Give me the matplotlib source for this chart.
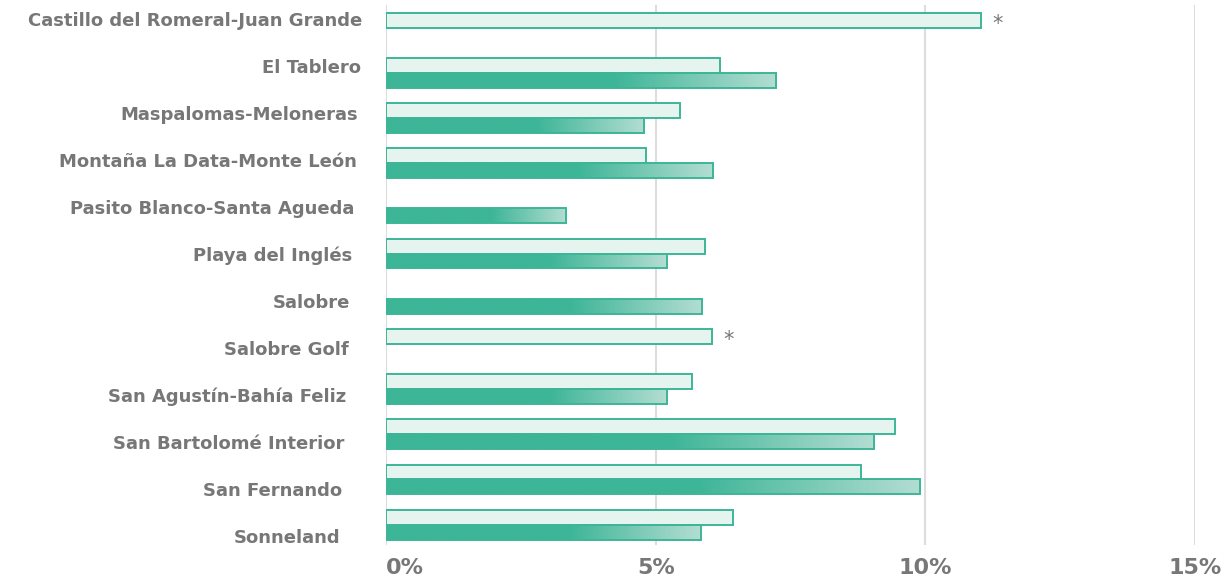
import numpy as np
import matplotlib
matplotlib.use("Agg")
from matplotlib import pyplot as plt
from matplotlib.colors import LinearSegmentedColormap
from matplotlib.patches import Rectangle
from matplotlib.transforms import ScaledTranslation

zones = ["Castillo del Romeral-Juan Grande", "El Tablero", "Maspalomas-Meloneras",
         "Montaña La Data-Monte León", "Pasito Blanco-Santa Agueda", "Playa del Inglés",
         "Salobre", "Salobre Golf", "San Agustín-Bahía Feliz", "San Bartolomé Interior",
         "San Fernando", "Sonneland"]
# light series (top bar) and dark series (bottom bar), in %; None = no bar
light = [11.04, 6.20, 5.45, 4.82, None, 5.92, None, 6.05, 5.68, 9.44, 8.81, 6.44]
dark = [None, 7.24, 4.79, 6.07, 3.34, 5.21, 5.86, None, 5.21, 9.05, 9.91, 5.84]
starred = ["Castillo del Romeral-Juan Grande", "Salobre Golf"]
xticks = [0, 5, 10, 15]

green = "#3db597"
pale = "#e5f4ef"
fade = "#b3ddd2"
grey = "#777777"

plt.rcParams['font.family'] = ['DejaVu Sans']

fig = plt.figure(figsize=(12.27, 5.82), dpi=100)
rect = [386/1227, 1 - 545/582, (1195 - 386)/1227, 540/582]
ax = fig.add_axes(rect)
# labels sit on their own axis, the original spaces them a little wider than the bars
lab = fig.add_axes(rect, frameon=False)

h = 0.33
cmap = LinearSegmentedColormap.from_list("g", [(0, green), (0.58, green), (1, fade)])
grad = np.linspace(0, 1, 256).reshape(1, -1)

for x in xticks:
    ax.axvline(x, color="#dddddd", linewidth=1.5, zorder=1)

for i, name in enumerate(zones):
    if light[i] is not None:
        ax.barh(i - h/2, light[i], height=h, color=pale, edgecolor=green, linewidth=1.4, zorder=3)
    if dark[i] is not None:
        v = dark[i]
        ax.imshow(grad, cmap=cmap, aspect='auto', extent=[0, v, i + h, i], zorder=3,
                  interpolation='bilinear')
        ax.add_patch(Rectangle((0, i), v, h, fill=False, edgecolor=green, linewidth=1.4, zorder=4))
    if name in starred:
        ax.text(light[i] + 0.2, i - h/2 + 0.08, "*", color=grey, fontsize=15,
                ha='left', va='center', zorder=5)

ax.set_xlim(0, 15)
ax.set_ylim(11.45, -0.5)

ax.set_yticks([])
ax.set_xticks(xticks)
ax.set_xticklabels([f"{x}%" for x in xticks], fontsize=16, fontweight='bold', color=grey)
ax.tick_params(axis='x', length=0, pad=9)
ax.get_xticklabels()[0].set_ha('left')
for s in ax.spines.values():
    s.set_visible(False)

lab.set_xlim(0, 15)
lab.set_ylim(11.19, -0.3)
lab.set_xticks([])
lab.set_yticks(range(len(zones)))
lab.set_yticklabels(zones, fontsize=13, fontweight='bold', color=grey)
lab.tick_params(axis='y', length=0, pad=27)
lab.patch.set_visible(False)
# right edges drift left a bit going down, as in the original
for i, t in enumerate(lab.get_yticklabels()):
    t.set_transform(t.get_transform() + ScaledTranslation((14 - 2*i)/100, 0, fig.dpi_scale_trans))

fig.savefig("out.png", dpi=100)
